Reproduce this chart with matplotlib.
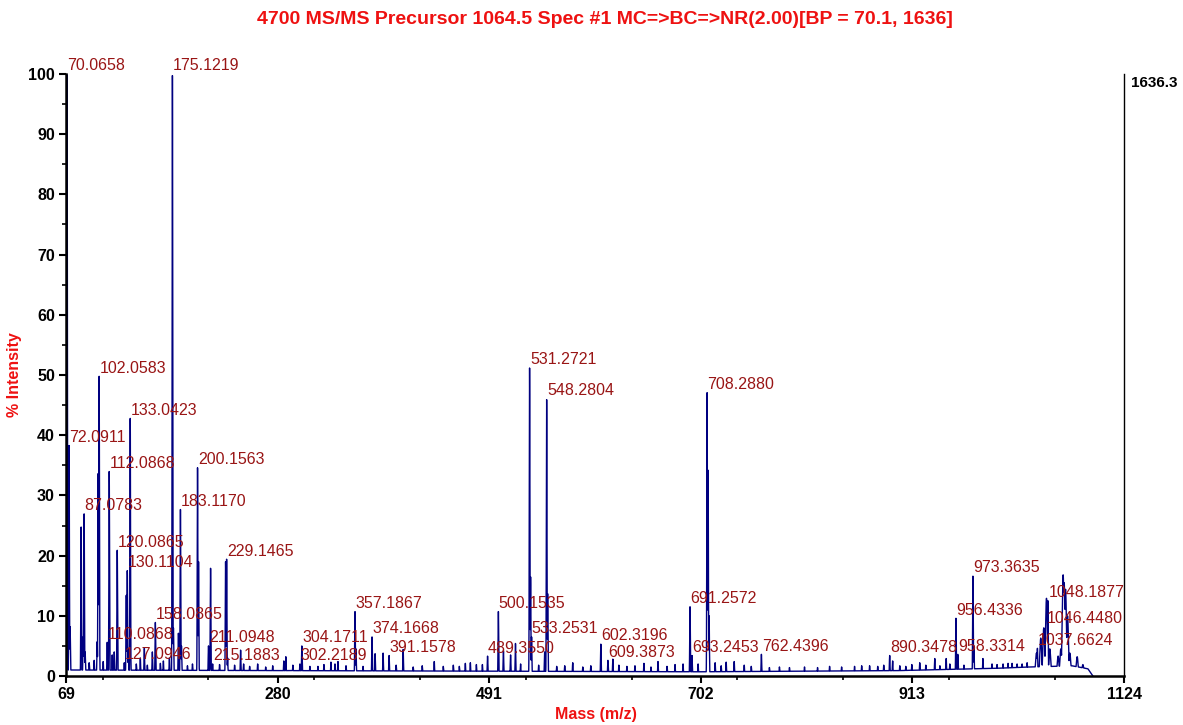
import numpy as np
import matplotlib
matplotlib.use("Agg")
from matplotlib import pyplot as plt
from matplotlib.ticker import MultipleLocator

plt.rcParams['font.family'] = ['Liberation Sans', 'DejaVu Sans']

# labelled peaks (m/z, % intensity)
label_mz = [70.0658, 72.0911, 87.0783, 102.0583, 110.0868, 112.0868, 120.0865,
            127.0946, 130.1104, 133.0423, 158.0865, 175.1219, 183.1170, 200.1563,
            211.0948, 215.1883, 229.1465, 302.2189, 304.1711, 357.1867, 374.1668,
            391.1578, 489.3550, 500.1535, 531.2721, 533.2531, 548.2804, 602.3196,
            609.3873, 691.2572, 693.2453, 708.2880, 762.4396, 890.3478, 956.4336,
            958.3314, 973.3635, 1037.6624, 1046.4480, 1048.1877]
label_int = [100, 38.3, 27.0, 49.8, 5.6, 34.0, 20.9,
             2.2, 17.5, 42.8, 8.9, 100, 27.7, 34.6,
             5.0, 2.0, 19.4, 2.0, 5.0, 10.7, 6.5,
             3.4, 3.3, 10.7, 51.3, 6.5, 46.0, 5.3,
             2.6, 11.5, 3.4, 47.1, 3.6, 3.4, 9.6,
             3.6, 16.6, 4.6, 8.2, 12.5]

# unlabelled peaks
other_mz = [73.08, 84.08, 86.10, 88.07, 100.08, 101.07, 115.09, 117.10, 129.10,
            131.10, 143.10, 147.10, 155.10, 166.10, 172.10, 176.12, 181.10, 184.12,
            201.16, 213.16, 228.14, 230.15, 243.10, 246.10, 260.10, 286.20, 288.20,
            312.2, 333.2, 337.2, 340.2, 358.19, 377.2, 385.2, 405.2, 436.2, 467.2,
            472.2, 478.2, 505.2, 512.3, 517.2, 532.27, 546.3, 549.28, 574.3, 614.3,
            645.3, 659.3, 676.3, 684.3, 709.29, 710.29, 716.3, 727.3, 735.3, 855.3,
            870.3, 893.3, 920.3, 935.3, 946.7, 950.3, 974.37, 983.3, 1003.4, 1012.4,
            1022.4, 92.1, 97.1, 106.1, 139.1, 150.1, 163.1, 190.1, 195.1, 222.1,
            237.1, 252.1, 268.1, 275.1, 295.2, 320.2, 326.2, 348.2, 365.2, 398.2,
            415.2, 424.2, 445.2, 455.2, 461.2, 484.2, 522.3, 540.3, 558.3, 566.3,
            584.3, 592.3, 620.3, 628.3, 636.3, 652.3, 668.3, 699.3, 722.3, 745.3,
            752.3, 770.4, 780.4, 790.4, 805.4, 818.4, 830.4, 842.4, 862.4, 878.4,
            884.4, 900.4, 906.4, 912.4, 926.4, 940.4, 964.4, 992.4, 997.4, 1008.4,
            1017.4, 1027.4]
other_int = [8.2, 24.8, 6.5, 4.0, 5.7, 33.7, 3.5, 4.0, 13.4,
             4.5, 3.0, 4.6, 4.0, 2.5, 3.0, 8.0, 7.1, 5.0,
             19.0, 17.9, 19.0, 3.0, 4.3, 2.0, 2.0, 2.5, 3.2,
             1.6, 2.3, 2.0, 2.4, 4.5, 3.7, 3.8, 4.4, 2.4, 2.1,
             2.2, 1.9, 4.2, 3.5, 5.4, 16.5, 4.0, 13.7, 2.2, 2.8,
             2.1, 2.4, 1.9, 2.0, 34.2, 10.0, 2.2, 2.3, 2.4, 1.6,
             1.7, 2.5, 2.2, 2.9, 2.9, 2.0, 5.0, 2.9, 2.0, 2.1,
             2.0, 2.2, 2.6, 2.4, 2.0, 1.8, 2.1, 1.7, 2.0, 1.9,
             1.8, 1.6, 1.5, 1.7, 1.8, 1.6, 1.9, 1.7, 1.6, 1.8,
             1.5, 1.7, 1.6, 1.8, 1.6, 1.9, 2.0, 1.8, 1.6, 1.7,
             1.5, 1.7, 1.8, 1.6, 1.7, 1.5, 1.6, 2.0, 1.7, 1.8,
             1.6, 1.4, 1.5, 1.4, 1.5, 1.4, 1.6, 1.5, 1.7, 1.6,
             1.8, 1.7, 1.6, 1.9, 1.8, 1.7, 1.8, 2.0, 1.9, 2.1,
             2.0, 2.2]

# broader peaks in the precursor region
cluster_mz = [1036.7, 1041.0, 1044.0, 1046.7, 1050.0, 1058.3, 1061.0, 1063.3,
              1064.3, 1065.7, 1067.7, 1070.0, 1077.3, 1083.0]
cluster_int = [3.8, 6.3, 8.0, 12.9, 4.5, 3.3, 4.5, 16.8,
               15.5, 14.4, 10.0, 3.8, 3.2, 1.9]

# baseline level
base_mz = [69, 280, 500, 700, 900, 1000, 1030, 1053, 1072, 1088, 1093]
base_int = [1.0, 0.9, 0.8, 0.7, 0.9, 1.3, 1.5, 1.6, 1.7, 1.2, 0.0]

x_ticks = [69, 280, 491, 702, 913, 1124]

x = np.arange(69, 1093, 0.05)
y = np.interp(x, base_mz, base_int)
for m, h in zip(label_mz + other_mz, label_int + other_int):
    y = np.maximum(y, h * np.exp(-0.5 * ((x - m) / 0.3) ** 2))
for m, h in zip(cluster_mz, cluster_int):
    y = np.maximum(y, h * np.exp(-0.5 * ((x - m) / 0.9) ** 2))

red = '#ee1111'
dark_red = '#991515'

fig = plt.figure(figsize=(11.83, 7.25), dpi=100)
ax = fig.add_axes([66 / 1183, 49 / 725, (1124 - 66) / 1183, (676 - 74) / 725])
ax.plot(x, y, color='#000080', lw=1.0)
ax.set_xlim(69, 1124)
ax.set_ylim(0, 100)

for m, h in zip(label_mz, label_int):
    ax.text(m + 0.3, h + 0.6, "%.4f" % m, color=dark_red, fontsize=11.5,
            ha='left', va='baseline', clip_on=False)

ax.spines['top'].set_visible(False)
ax.spines['left'].set_linewidth(1.8)
ax.spines['bottom'].set_linewidth(1.8)
ax.spines['right'].set_linewidth(1.0)
ax.set_xticks(x_ticks)
ax.xaxis.set_minor_locator(MultipleLocator(105.5))
ax.yaxis.set_major_locator(MultipleLocator(10))
ax.yaxis.set_minor_locator(MultipleLocator(5))
ax.tick_params(which='major', length=5, width=1.5, labelsize=11.5, pad=3)
ax.tick_params(which='minor', length=3, width=1.2)
ax.tick_params(right=False)
for t in ax.get_xticklabels() + ax.get_yticklabels():
    t.set_fontweight('bold')

fig.text(596 / 1183, 1 - 715 / 725, "Mass (m/z)", color=red, fontweight='bold',
         fontsize=11.5, ha='center', va='center')
fig.text(15 / 1183, 1 - 375 / 725, "% Intensity", color=red, fontweight='bold',
         fontsize=11.5, ha='center', va='center', rotation=90)
fig.text(605 / 1183, 1 - 20 / 725,
         "4700 MS/MS Precursor 1064.5 Spec #1 MC=>BC=>NR(2.00)[BP = 70.1, 1636]",
         color=red, fontweight='bold', fontsize=14, ha='center', va='center')
fig.text(1131 / 1183, 1 - 83 / 725, "1636.3", fontweight='bold', fontsize=11,
         ha='left', va='center')

fig.savefig("out.png", dpi=100)
